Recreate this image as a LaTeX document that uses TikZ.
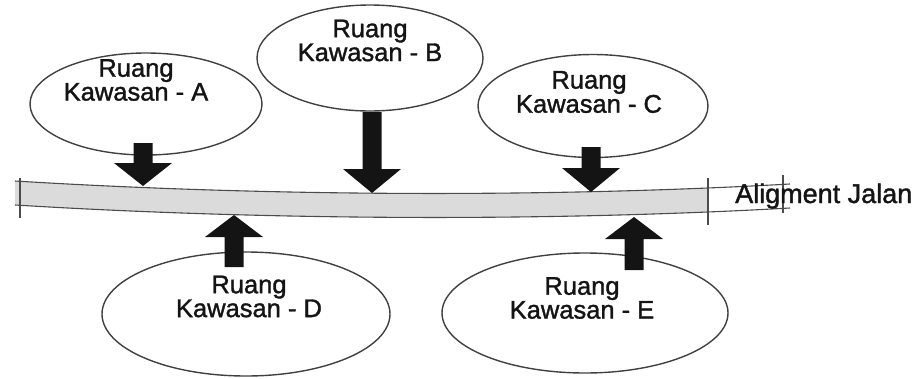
\documentclass[tikz,border=0pt]{standalone}
\usepackage{fontspec}
\setmainfont{Liberation Sans}
\newfontfamily\lblfont{Liberation Sans}[UprightFeatures={FakeBold=1.4}]
\usetikzlibrary{shapes.geometric}
\newcommand\blockarrow[4]{%
  \fill[barrow] ({#1-9.5},#2) -- ({#1+9.5},#2) -- ({#1+9.5},#3) -- ({#1+29},#3)
    -- (#1,#4) -- ({#1-29},#3) -- ({#1-9.5},#3) -- cycle;}
\begin{document}
\begin{tikzpicture}[x=1pt,y=-1pt,
  zone/.style={ellipse, draw=black!75, line width=1.4pt, inner sep=0pt},
  lbl/.style={align=center, inner sep=0pt, font=\lblfont\fontsize{25.5}{22}\selectfont, text=black!92},
  barrow/.style={fill=black!92, draw=none},
  roadedge/.style={draw=black!70, line width=1.1pt}]
\useasboundingbox (0,0) rectangle (924,378);
% road
\begin{scope}
  \clip (0,0) rectangle (708,378);
  \fill[black!14] (15,181) .. controls (260,196) and (540,198) .. (790,184)
    -- (790,208) .. controls (540,222) and (260,220) .. (15,205) -- cycle;
\end{scope}
\draw[roadedge] (15,181) .. controls (260,196) and (540,198) .. (790,184);
\draw[roadedge] (15,205) .. controls (260,220) and (540,222) .. (790,208);
\draw[roadedge] (20,178) -- (20,218);
\draw[roadedge] (708,178) -- (708,225);
\draw[roadedge] (783,175) -- (783,213);
% zones
\node[zone, minimum width=232pt, minimum height=102pt] (A) at (146,104) {};
\node[zone, minimum width=226pt, minimum height=106pt] (B) at (370,58) {};
\node[zone, minimum width=230pt, minimum height=103pt] (C) at (593,106) {};
\node[zone, minimum width=288pt, minimum height=124pt] (D) at (246,314) {};
\node[zone, minimum width=286pt, minimum height=120pt] (E) at (585,313) {};
% labels
\node[lbl] (tA) at (136,80) {Ruang\\Kawasan - A};
\node[lbl] (tB) at (370,40.5) {Ruang\\Kawasan - B};
\node[lbl] (tC) at (589,92) {Ruang\\Kawasan - C};
\node[lbl] (tD) at (249,296.5) {Ruang\\Kawasan - D};
\node[lbl] (tE) at (582,298) {Ruang\\Kawasan - E};
\node[anchor=base west, inner sep=0pt, font=\lblfont\fontsize{27}{30}\selectfont, text=black!92] (road) at (735,203) {Aligment Jalan};
% arrows
\blockarrow{143}{143}{163}{186}
\blockarrow{372}{112}{169}{193}
\blockarrow{591}{147}{168}{192}
\blockarrow{234}{267}{237}{215}
\blockarrow{634}{270}{239}{217}
\end{tikzpicture}
\end{document}
